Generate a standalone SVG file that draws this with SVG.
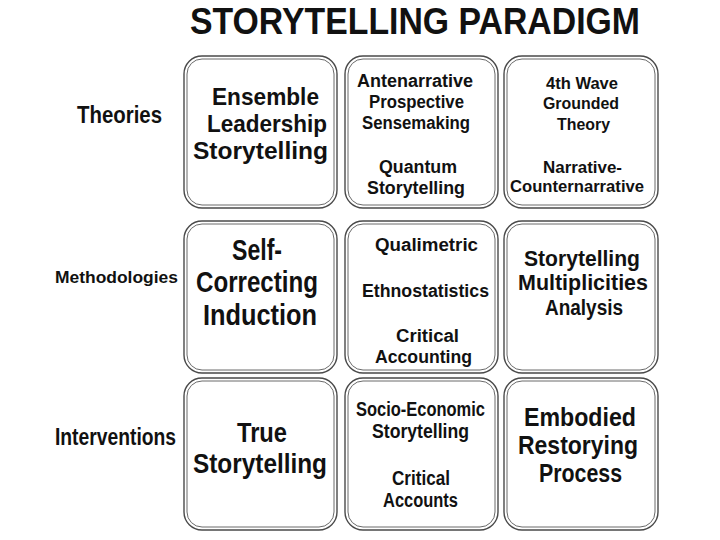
<svg xmlns="http://www.w3.org/2000/svg" width="720" height="540" viewBox="0 0 720 540">
<style>
text{font-family:"Liberation Sans",Arial,sans-serif;fill:#111;font-weight:700}
.title{font-size:37px}
.outer{fill:#fff;stroke:#4a4a4a;stroke-width:1.4}
.inner{fill:none;stroke:#6a6a6a;stroke-width:1}
</style>
<rect width="720" height="540" fill="#fff"/>
<text class="title" x="190" y="34" textLength="450" lengthAdjust="spacingAndGlyphs">STORYTELLING PARADIGM</text>

<g id="row-labels">
<text x="77" y="123" font-size="24" textLength="85" lengthAdjust="spacingAndGlyphs">Theories</text>
<text x="55" y="283" font-size="17" textLength="123" lengthAdjust="spacingAndGlyphs">Methodologies</text>
<text x="55" y="445" font-size="23" textLength="121" lengthAdjust="spacingAndGlyphs">Interventions</text>
</g>

<g id="n11">
<rect class="outer" x="184" y="56" width="153" height="152" rx="18"/>
<rect class="inner" x="187" y="59" width="147" height="146" rx="15"/>
<text x="212" y="104.5" font-size="24" textLength="107" lengthAdjust="spacingAndGlyphs">Ensemble</text>
<text x="207" y="131.5" font-size="24" textLength="120" lengthAdjust="spacingAndGlyphs">Leadership</text>
<text x="193" y="158.5" font-size="24" textLength="135" lengthAdjust="spacingAndGlyphs">Storytelling</text>
</g>

<g id="n12">
<rect class="outer" x="345" y="56" width="153" height="152" rx="18"/>
<rect class="inner" x="348" y="59" width="147" height="146" rx="15"/>
<text x="357" y="87" font-size="18.7" textLength="116" lengthAdjust="spacingAndGlyphs">Antenarrative</text>
<text x="369" y="108" font-size="18.7" textLength="95" lengthAdjust="spacingAndGlyphs">Prospective</text>
<text x="362" y="129" font-size="18.7" textLength="108" lengthAdjust="spacingAndGlyphs">Sensemaking</text>
<text x="379" y="173" font-size="18.7" textLength="78" lengthAdjust="spacingAndGlyphs">Quantum</text>
<text x="367" y="194" font-size="18.7" textLength="98" lengthAdjust="spacingAndGlyphs">Storytelling</text>
</g>

<g id="n13">
<rect class="outer" x="504" y="56" width="154" height="152" rx="18"/>
<rect class="inner" x="507" y="59" width="148" height="146" rx="15"/>
<text x="546" y="89" font-size="17" textLength="72" lengthAdjust="spacingAndGlyphs">4th Wave</text>
<text x="543" y="109" font-size="17" textLength="76" lengthAdjust="spacingAndGlyphs">Grounded</text>
<text x="557" y="129.5" font-size="17" textLength="53" lengthAdjust="spacingAndGlyphs">Theory</text>
<text x="543" y="173" font-size="17" textLength="79" lengthAdjust="spacingAndGlyphs">Narrative-</text>
<text x="510" y="192.3" font-size="17" textLength="134" lengthAdjust="spacingAndGlyphs">Counternarrative</text>
</g>

<g id="n21">
<rect class="outer" x="184" y="221" width="153" height="152" rx="18"/>
<rect class="inner" x="187" y="224" width="147" height="146" rx="15"/>
<text x="232" y="259.8" font-size="29" textLength="50" lengthAdjust="spacingAndGlyphs">Self-</text>
<text x="196" y="292.4" font-size="29" textLength="122" lengthAdjust="spacingAndGlyphs">Correcting</text>
<text x="203" y="325" font-size="29" textLength="114" lengthAdjust="spacingAndGlyphs">Induction</text>
</g>

<g id="n22">
<rect class="outer" x="345" y="221" width="153" height="152" rx="18"/>
<rect class="inner" x="348" y="224" width="147" height="146" rx="15"/>
<text x="375" y="251" font-size="18.7" textLength="103" lengthAdjust="spacingAndGlyphs">Qualimetric</text>
<text x="362" y="297" font-size="18.7" textLength="127" lengthAdjust="spacingAndGlyphs">Ethnostatistics</text>
<text x="396" y="342" font-size="18.7" textLength="63" lengthAdjust="spacingAndGlyphs">Critical</text>
<text x="375" y="363" font-size="18.7" textLength="97" lengthAdjust="spacingAndGlyphs">Accounting</text>
</g>

<g id="n23">
<rect class="outer" x="504" y="221" width="154" height="152" rx="18"/>
<rect class="inner" x="507" y="224" width="148" height="146" rx="15"/>
<text x="524" y="265.8" font-size="22" textLength="116" lengthAdjust="spacingAndGlyphs">Storytelling</text>
<text x="518" y="290.4" font-size="22" textLength="130" lengthAdjust="spacingAndGlyphs">Multiplicities</text>
<text x="545" y="315" font-size="22" textLength="78" lengthAdjust="spacingAndGlyphs">Analysis</text>
</g>

<g id="n31">
<rect class="outer" x="184" y="378" width="153" height="152" rx="18"/>
<rect class="inner" x="187" y="381" width="147" height="146" rx="15"/>
<text x="237" y="442" font-size="27.5" textLength="50" lengthAdjust="spacingAndGlyphs">True</text>
<text x="193" y="473" font-size="27.5" textLength="134" lengthAdjust="spacingAndGlyphs">Storytelling</text>
</g>

<g id="n32">
<rect class="outer" x="345" y="378" width="153" height="152" rx="18"/>
<rect class="inner" x="348" y="381" width="147" height="146" rx="15"/>
<text x="356" y="416" font-size="19.5" textLength="129" lengthAdjust="spacingAndGlyphs">Socio-Economic</text>
<text x="372" y="438" font-size="19.5" textLength="97" lengthAdjust="spacingAndGlyphs">Storytelling</text>
<text x="392" y="485" font-size="19.5" textLength="58" lengthAdjust="spacingAndGlyphs">Critical</text>
<text x="383" y="507" font-size="19.5" textLength="75" lengthAdjust="spacingAndGlyphs">Accounts</text>
</g>

<g id="n33">
<rect class="outer" x="504" y="378" width="154" height="152" rx="18"/>
<rect class="inner" x="507" y="381" width="148" height="146" rx="15"/>
<text x="524" y="426" font-size="25" textLength="112" lengthAdjust="spacingAndGlyphs">Embodied</text>
<text x="518" y="454" font-size="25" textLength="120" lengthAdjust="spacingAndGlyphs">Restorying</text>
<text x="539" y="482" font-size="25" textLength="83" lengthAdjust="spacingAndGlyphs">Process</text>
</g>
</svg>
